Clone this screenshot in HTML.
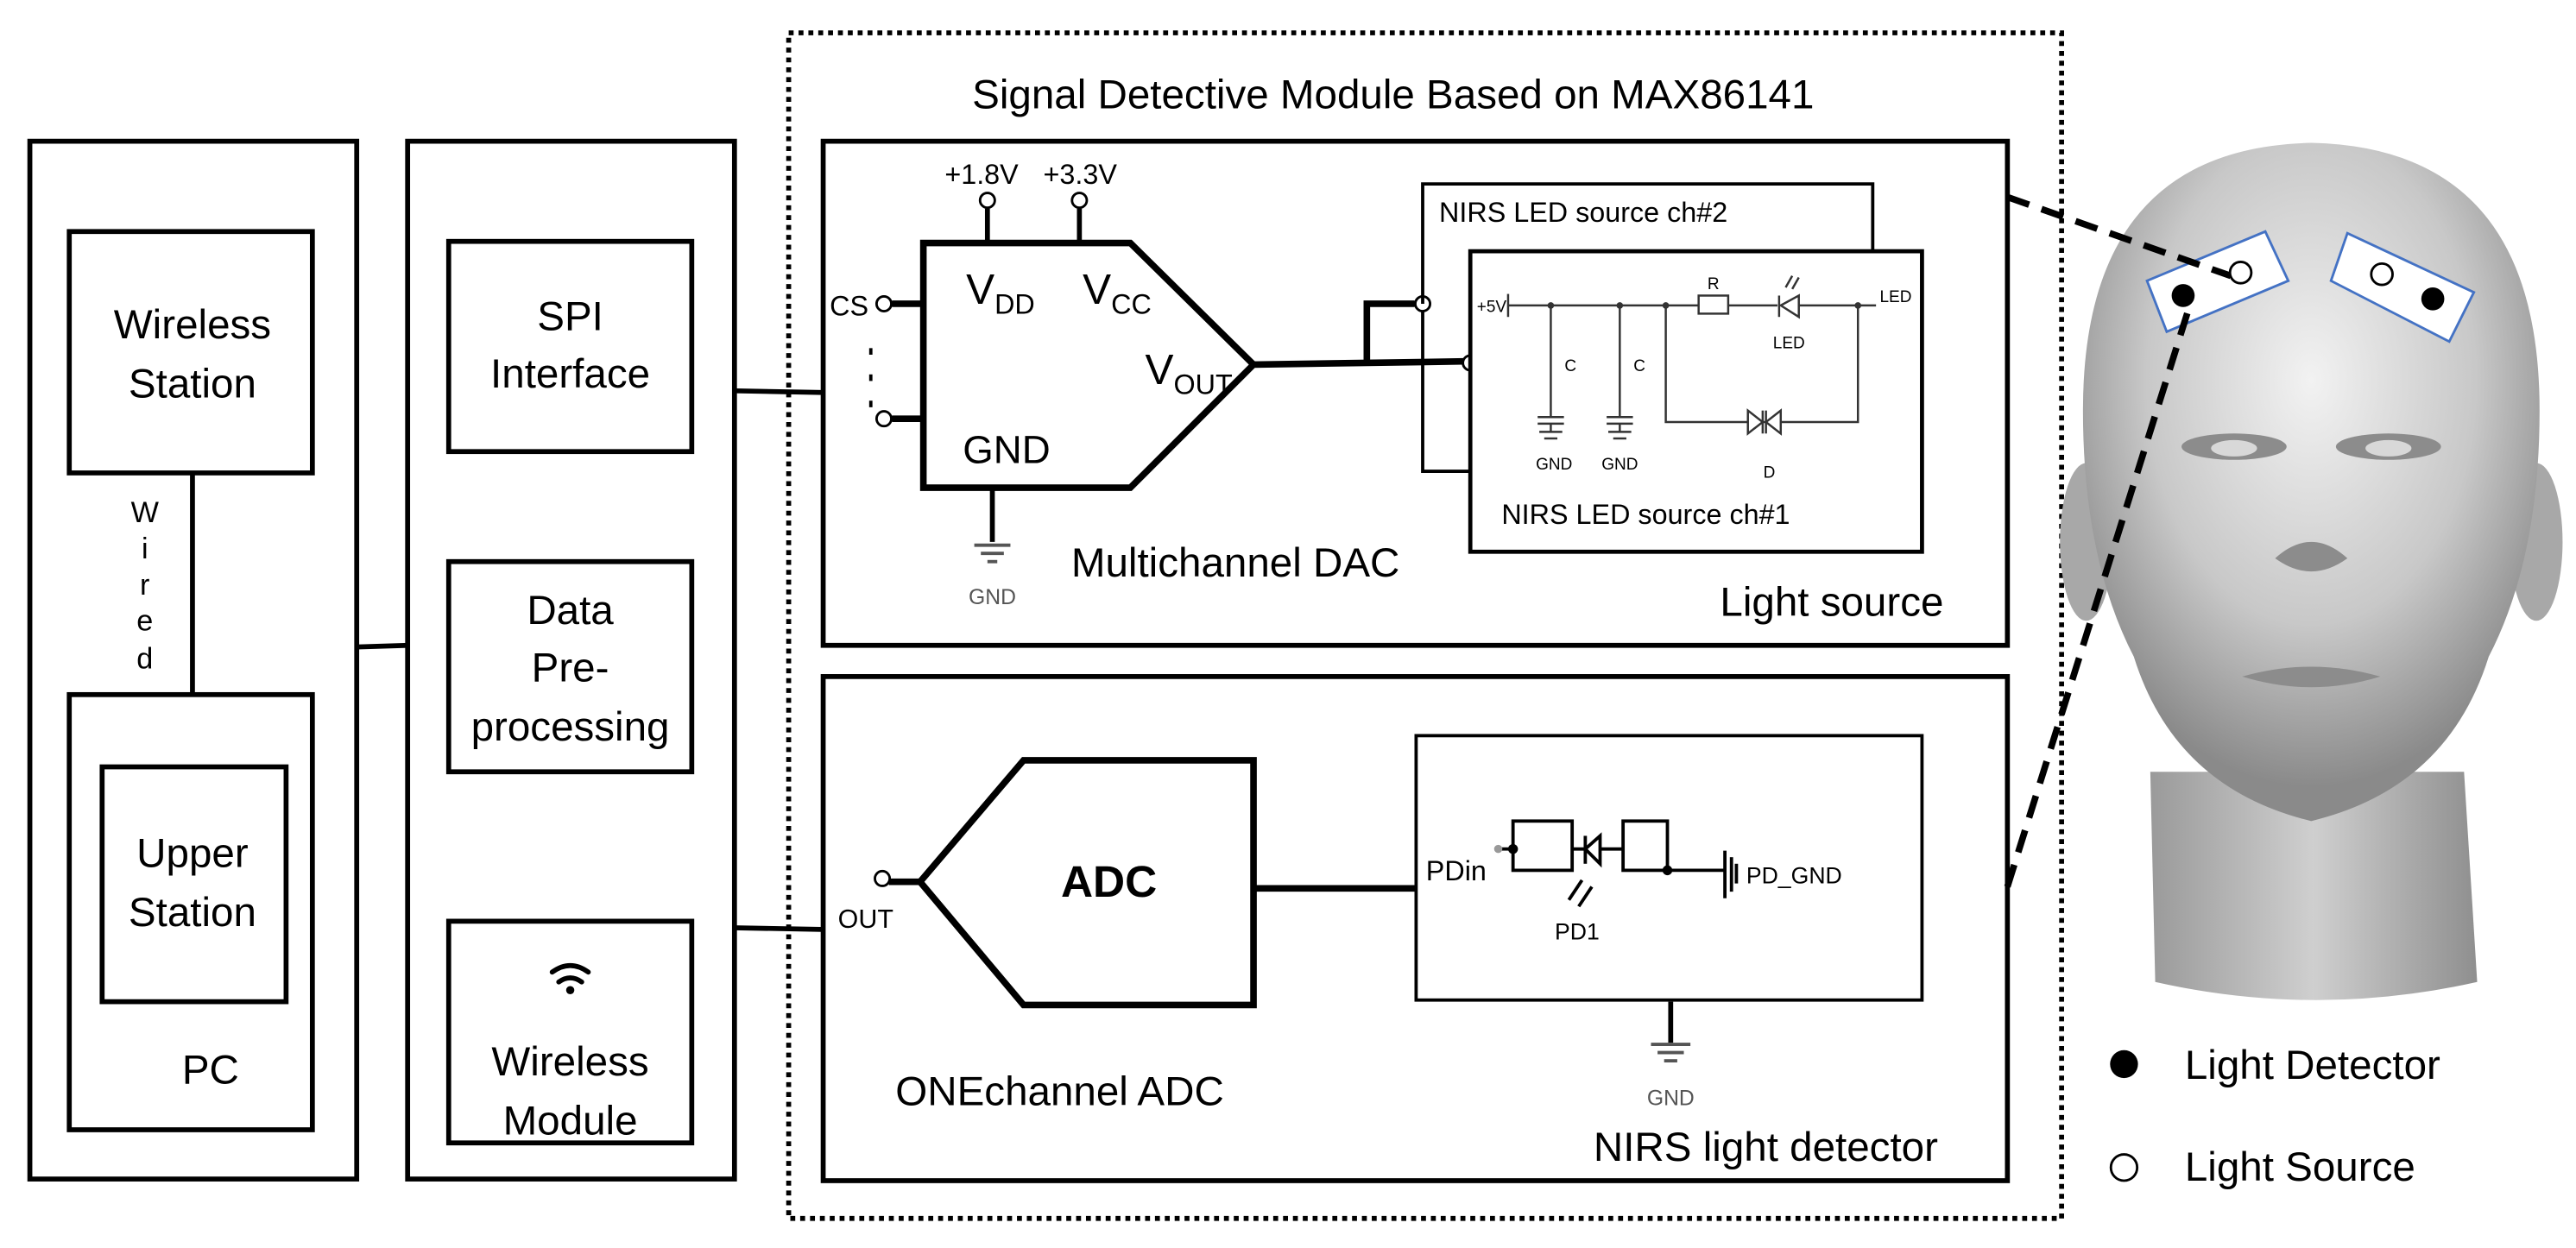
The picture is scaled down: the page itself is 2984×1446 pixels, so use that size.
<!DOCTYPE html>
<html><head><meta charset="utf-8"><style>
html,body{margin:0;padding:0;background:#fff;}
svg{display:block;}
text{font-family:"Liberation Sans",Arial,sans-serif;fill:#000;}
</style></head><body>
<svg width="2984" height="1446" viewBox="0 0 1568 760" xmlns="http://www.w3.org/2000/svg">
<defs>
<radialGradient id="hg" cx="0.5" cy="0.35" r="0.6">
<stop offset="0" stop-color="#f2f2f2"/><stop offset="0.6" stop-color="#c8c8c8"/><stop offset="1" stop-color="#8a8a8a"/>
</radialGradient>
<linearGradient id="ng" x1="0" x2="1"><stop offset="0" stop-color="#9a9a9a"/><stop offset="0.5" stop-color="#cfcfcf"/><stop offset="1" stop-color="#8f8f8f"/></linearGradient>
</defs>
<g fill="none" stroke="#000" stroke-width="3">
<!-- PC column -->
<rect x="18" y="86" width="199" height="632"/>
<rect x="42" y="141" width="148" height="147"/>
<rect x="42" y="423" width="148" height="265"/>
<rect x="62" y="467" width="112" height="143"/>
<line x1="117" y1="288" x2="117" y2="423"/>
<!-- middle column -->
<rect x="248" y="86" width="199" height="632"/>
<rect x="273" y="147" width="148" height="128"/>
<rect x="273" y="342" width="148" height="128"/>
<rect x="273" y="561" width="148" height="135"/>
<line x1="217" y1="394" x2="248" y2="393"/>
<line x1="447" y1="238" x2="500" y2="239"/>
<line x1="447" y1="565" x2="500" y2="566"/>
<!-- module -->
<rect x="480" y="20" width="775" height="722" stroke-dasharray="3,3"/>
<rect x="501" y="86" width="721" height="307"/>
<rect x="501" y="412" width="721" height="307"/>
</g>
<g font-size="25" text-anchor="middle">
<text x="117" y="206">Wireless</text><text x="117" y="242">Station</text>
<text x="117" y="528">Upper</text><text x="117" y="564">Station</text>
<text x="128" y="660">PC</text>
<text x="347" y="201">SPI</text><text x="347" y="236">Interface</text>
<text x="347" y="380">Data</text><text x="347" y="415">Pre-</text><text x="347" y="451">processing</text>
<text x="347" y="655">Wireless</text><text x="347" y="691">Module</text>
</g>
<g font-size="18" text-anchor="middle">
<text x="88" y="318">W</text><text x="88" y="340">i</text><text x="88" y="362">r</text><text x="88" y="384">e</text><text x="88" y="407">d</text>
</g>
<!-- wifi -->
<g fill="none" stroke="#000" stroke-width="3" stroke-linecap="round">
<path d="M336 592 Q347 584 358 592"/><path d="M340 598 Q347 593 354 598"/>
</g>
<circle cx="347" cy="603" r="2.5" fill="#000"/>
<text x="848" y="66" font-size="25" text-anchor="middle">Signal Detective Module Based on MAX86141</text>
<!-- DAC -->
<g fill="none" stroke="#000" stroke-width="4">
<polygon points="562,148 688,148 763,222 688,297 562,297"/>
<line x1="601" y1="127" x2="601" y2="148" stroke-width="3"/>
<line x1="657" y1="127" x2="657" y2="148" stroke-width="3"/>
<line x1="543" y1="185" x2="562" y2="185"/>
<line x1="543" y1="255" x2="562" y2="255"/>
<line x1="604" y1="297" x2="604" y2="330" stroke-width="3"/>
<polyline points="763,222 832,221 895,220"/>
<polyline points="832,221 832,185 861,185"/>
</g>
<g fill="#fff" stroke="#000" stroke-width="1.5">
<circle cx="601" cy="122" r="4.5"/><circle cx="657" cy="122" r="4.5"/>
<circle cx="538" cy="185" r="4.5"/><circle cx="538" cy="255" r="4.5"/>
<circle cx="866" cy="185" r="4.5"/><circle cx="895" cy="221" r="4.5"/>
<circle cx="537" cy="535" r="4.5"/>
</g>
<g fill="#000"><rect x="529" y="212" width="2" height="4"/><rect x="529" y="228" width="2" height="4"/><rect x="529" y="244" width="2" height="4"/></g>
<g stroke="#555" stroke-width="2">
<line x1="593" y1="332" x2="615" y2="332"/><line x1="597" y1="337" x2="611" y2="337"/><line x1="601" y1="342" x2="607" y2="342"/>
</g>
<text x="604" y="368" font-size="13" fill="#555" text-anchor="middle" style="fill:#555">GND</text>
<text x="575" y="112" font-size="17">+1.8V</text><text x="635" y="112" font-size="17">+3.3V</text>
<text x="505" y="192" font-size="17">CS</text>
<text x="588" y="185" font-size="26">V<tspan font-size="17" dy="6">DD</tspan></text>
<text x="659" y="185" font-size="26">V<tspan font-size="17" dy="6">CC</tspan></text>
<text x="697" y="234" font-size="26">V<tspan font-size="17" dy="6">OUT</tspan></text>
<text x="586" y="282" font-size="24">GND</text>
<text x="652" y="351" font-size="25">Multichannel DAC</text>
<text x="1047" y="375" font-size="25">Light source</text>
<!-- ch boxes -->
<g fill="none" stroke="#000">
<polyline points="866,185 866,112 1140,112 1140,153" stroke-width="2"/>
<polyline points="866,190 866,287 895,287" stroke-width="2"/>
<rect x="895" y="153" width="275" height="183" stroke-width="2.5" fill="#fff"/>
</g>
<text x="876" y="135" font-size="17">NIRS LED source ch#2</text>
<text x="914" y="319" font-size="17">NIRS LED source ch#1</text>
<!-- LED circuit -->
<g stroke="#333" stroke-width="1.3" fill="none">
<line x1="918" y1="179" x2="918" y2="193"/>
<line x1="918" y1="186" x2="1034" y2="186"/>
<rect x="1034" y="180" width="18" height="11"/>
<line x1="1052" y1="186" x2="1082" y2="186"/>
<polygon points="1095,180 1095,193 1084,186"/><line x1="1083" y1="180" x2="1083" y2="193"/>
<line x1="1095" y1="186" x2="1142" y2="186"/>
<line x1="944" y1="186" x2="944" y2="254"/><line x1="936" y1="254" x2="952" y2="254"/><line x1="936" y1="258" x2="952" y2="258"/><line x1="944" y1="258" x2="944" y2="263"/>
<line x1="986" y1="186" x2="986" y2="254"/><line x1="978" y1="254" x2="994" y2="254"/><line x1="978" y1="258" x2="994" y2="258"/><line x1="986" y1="258" x2="986" y2="263"/>
<line x1="937" y1="263" x2="951" y2="263"/><line x1="940" y1="267" x2="948" y2="267"/>
<line x1="979" y1="263" x2="993" y2="263"/><line x1="982" y1="267" x2="990" y2="267"/>
<polyline points="1014,186 1014,257 1131,257 1131,186"/>
<polygon points="1064,250 1064,264 1073,257" fill="#fff"/><polygon points="1084,250 1084,264 1075,257" fill="#fff"/>
<line x1="1073" y1="250" x2="1073" y2="264"/><line x1="1075" y1="250" x2="1075" y2="264"/>
<line x1="1087" y1="175" x2="1091" y2="168"/><line x1="1091" y1="176" x2="1095" y2="169"/>
</g>
<g fill="#333"><circle cx="944" cy="186" r="2"/><circle cx="986" cy="186" r="2"/><circle cx="1014" cy="186" r="2"/><circle cx="1131" cy="186" r="2"/></g>
<g font-size="10" fill="#333" text-anchor="middle" style="fill:#333">
<text x="908" y="190">+5V</text><text x="1043" y="176">R</text><text x="1089" y="212">LED</text><text x="1154" y="184">LED</text>
<text x="956" y="226">C</text><text x="998" y="226">C</text><text x="946" y="286">GND</text><text x="986" y="286">GND</text><text x="1077" y="291">D</text>
</g>
<!-- ADC -->
<g fill="none" stroke="#000" stroke-width="4">
<polygon points="763,463 623,463 560,537 623,612 763,612"/>
<line x1="541" y1="537" x2="560" y2="537"/>
<line x1="763" y1="541" x2="862" y2="541"/>
</g>
<text x="675" y="546" font-size="27" font-weight="bold" text-anchor="middle">ADC</text>
<text x="510" y="565" font-size="16">OUT</text>
<rect x="862" y="448" width="308" height="161" fill="none" stroke="#000" stroke-width="2"/>
<g stroke="#000" stroke-width="2" fill="none">
<line x1="913" y1="517" x2="921" y2="517"/>
<rect x="921" y="500" width="36" height="30"/>
<line x1="957" y1="517" x2="988" y2="517"/>
<polygon points="974,509 974,526 965,517" fill="#fff"/><line x1="965" y1="509" x2="965" y2="526"/>
<rect x="988" y="500" width="27" height="30"/>
<line x1="1015" y1="530" x2="1050" y2="530"/>
<line x1="1050" y1="518" x2="1050" y2="547"/><line x1="1054" y1="522" x2="1054" y2="543"/>
<line x1="1057" y1="526" x2="1057" y2="538"/>
<line x1="955" y1="548" x2="963" y2="536"/><line x1="961" y1="552" x2="969" y2="540"/>
<line x1="1017" y1="610" x2="1017" y2="635" stroke-width="3"/>
</g>
<circle cx="912" cy="517" r="2.5" fill="#999"/><circle cx="921" cy="517" r="3" fill="#000"/><circle cx="1015" cy="530" r="3" fill="#000"/>
<g stroke="#555" stroke-width="2"><line x1="1005" y1="636" x2="1029" y2="636"/><line x1="1009" y1="641" x2="1025" y2="641"/><line x1="1013" y1="646" x2="1021" y2="646"/></g>
<text x="1017" y="673" font-size="13" text-anchor="middle" style="fill:#555">GND</text>
<text x="868" y="536" font-size="17">PDin</text>
<text x="1063" y="538" font-size="14">PD_GND</text>
<text x="960" y="572" font-size="14" text-anchor="middle">PD1</text>
<text x="545" y="673" font-size="25">ONEchannel ADC</text>
<text x="970" y="707" font-size="25">NIRS light detector</text>
<!-- head -->
<path d="M1309 470 L1312 598 Q1410 620 1508 598 L1500 470 Z" fill="url(#ng)"/>
<ellipse cx="1270" cy="330" rx="16" ry="48" fill="#a8a8a8"/>
<ellipse cx="1544" cy="330" rx="16" ry="48" fill="#a8a8a8"/>
<path d="M1268 250 Q1268 90 1407 87 Q1546 90 1546 250 Q1546 340 1515 400 Q1490 480 1407 500 Q1324 480 1299 400 Q1268 340 1268 250 Z" fill="url(#hg)"/>
<g fill="#8c8c8c"><ellipse cx="1360" cy="272" rx="32" ry="8"/><ellipse cx="1454" cy="272" rx="32" ry="8"/>
<path d="M1385 340 Q1407 320 1429 340 Q1407 356 1385 340 Z"/><path d="M1365 412 Q1407 400 1449 412 Q1407 425 1365 412Z"/></g>
<g fill="#d8d8d8"><ellipse cx="1360" cy="273" rx="14" ry="5"/><ellipse cx="1454" cy="273" rx="14" ry="5"/></g>
<!-- sensors -->
<g fill="#fff" stroke="#4472c4" stroke-width="1.5">
<polygon points="1307,171 1379,141 1393,171 1319,202"/>
<polygon points="1419,171 1429,142 1506,178 1491,208"/>
</g>
<g stroke="#000" stroke-width="4" stroke-dasharray="14,8" fill="none">
<line x1="1222" y1="120" x2="1358" y2="168"/>
<line x1="1222" y1="540" x2="1333" y2="186"/>
</g>
<circle cx="1329" cy="180" r="7" fill="#000"/><circle cx="1364" cy="166" r="6.5" fill="#fff" stroke="#000" stroke-width="1.5"/>
<circle cx="1450" cy="167" r="6.5" fill="#fff" stroke="#000" stroke-width="1.5"/><circle cx="1481" cy="182" r="7" fill="#000"/>
<!-- legend -->
<circle cx="1293" cy="648" r="8.5" fill="#000"/>
<circle cx="1293" cy="711" r="8" fill="#fff" stroke="#000" stroke-width="1.5"/>
<text x="1330" y="657" font-size="25">Light Detector</text>
<text x="1330" y="719" font-size="25">Light Source</text>
</svg>
</body></html>
